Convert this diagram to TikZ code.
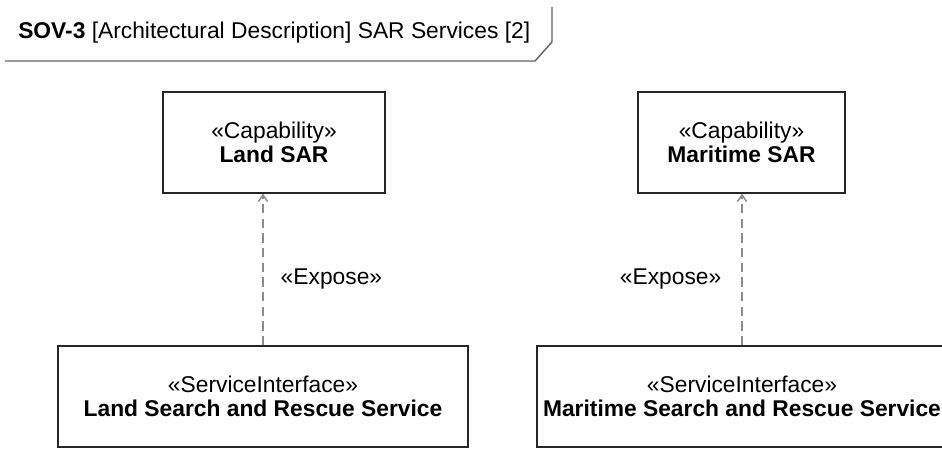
\documentclass[tikz,border=0pt]{standalone}
\usepackage{fontspec}
\setmainfont{Liberation Sans}
\usetikzlibrary{arrows.meta}

\def\px{0.75pt}   % one reference pixel

\tikzset{
  block/.style={draw=black!85, line width=1pt, align=center, inner sep=0pt,
    minimum height=101*\px},
  expose/.style={draw=black!45, line width=1.1pt, dash pattern=on 7pt off 4pt},
  tabline/.style={draw=black!60, line width=1.1pt},
}

\begin{document}
\begin{tikzpicture}[x=\px, y=-\px, font=\fontsize{17.1pt}{17.5pt}\selectfont,
    >={Straight Barb[length=5pt, width=7pt]}]
  \useasboundingbox[fill=white] (0,0) rectangle (942,449);

  % ----- diagram frame -----
  \node[anchor=west, inner sep=0pt] (frametitle) at (18,33)
    {\textbf{SOV-3} [Architectural Description] SAR Services [2]};
  \draw[tabline] (552,7) -- (552,42) -- (535,61) -- (5,61);

  % ----- capabilities -----
  \node[block, minimum width=222*\px] (landcap) at (274,142.5)
    {«Capability»\\\textbf{Land SAR}};
  \node[block, minimum width=207*\px] (marcap) at (741.5,142.5)
    {«Capability»\\\textbf{Maritime SAR}};

  % ----- service interfaces -----
  \node[block, minimum width=410*\px] (landsvc) at (263,396.5)
    {«ServiceInterface»\\\textbf{Land Search and Rescue Service}};
  \node[block, minimum width=410*\px] (marsvc) at (742,396.5)
    {«ServiceInterface»\\\textbf{Maritime Search and Rescue Service}};

  % ----- expose dependencies -----
  \draw[expose, ->] (landsvc.north) -- (landsvc.north |- landcap.south)
    node[pos=0.44, right=12.75pt, inner sep=0pt] (landexp) {«Expose»};
  \draw[expose, ->] (marsvc.north) -- (marsvc.north |- marcap.south)
    node[pos=0.44, left=15pt, inner sep=0pt] (marexp) {«Expose»};
\end{tikzpicture}
\end{document}
